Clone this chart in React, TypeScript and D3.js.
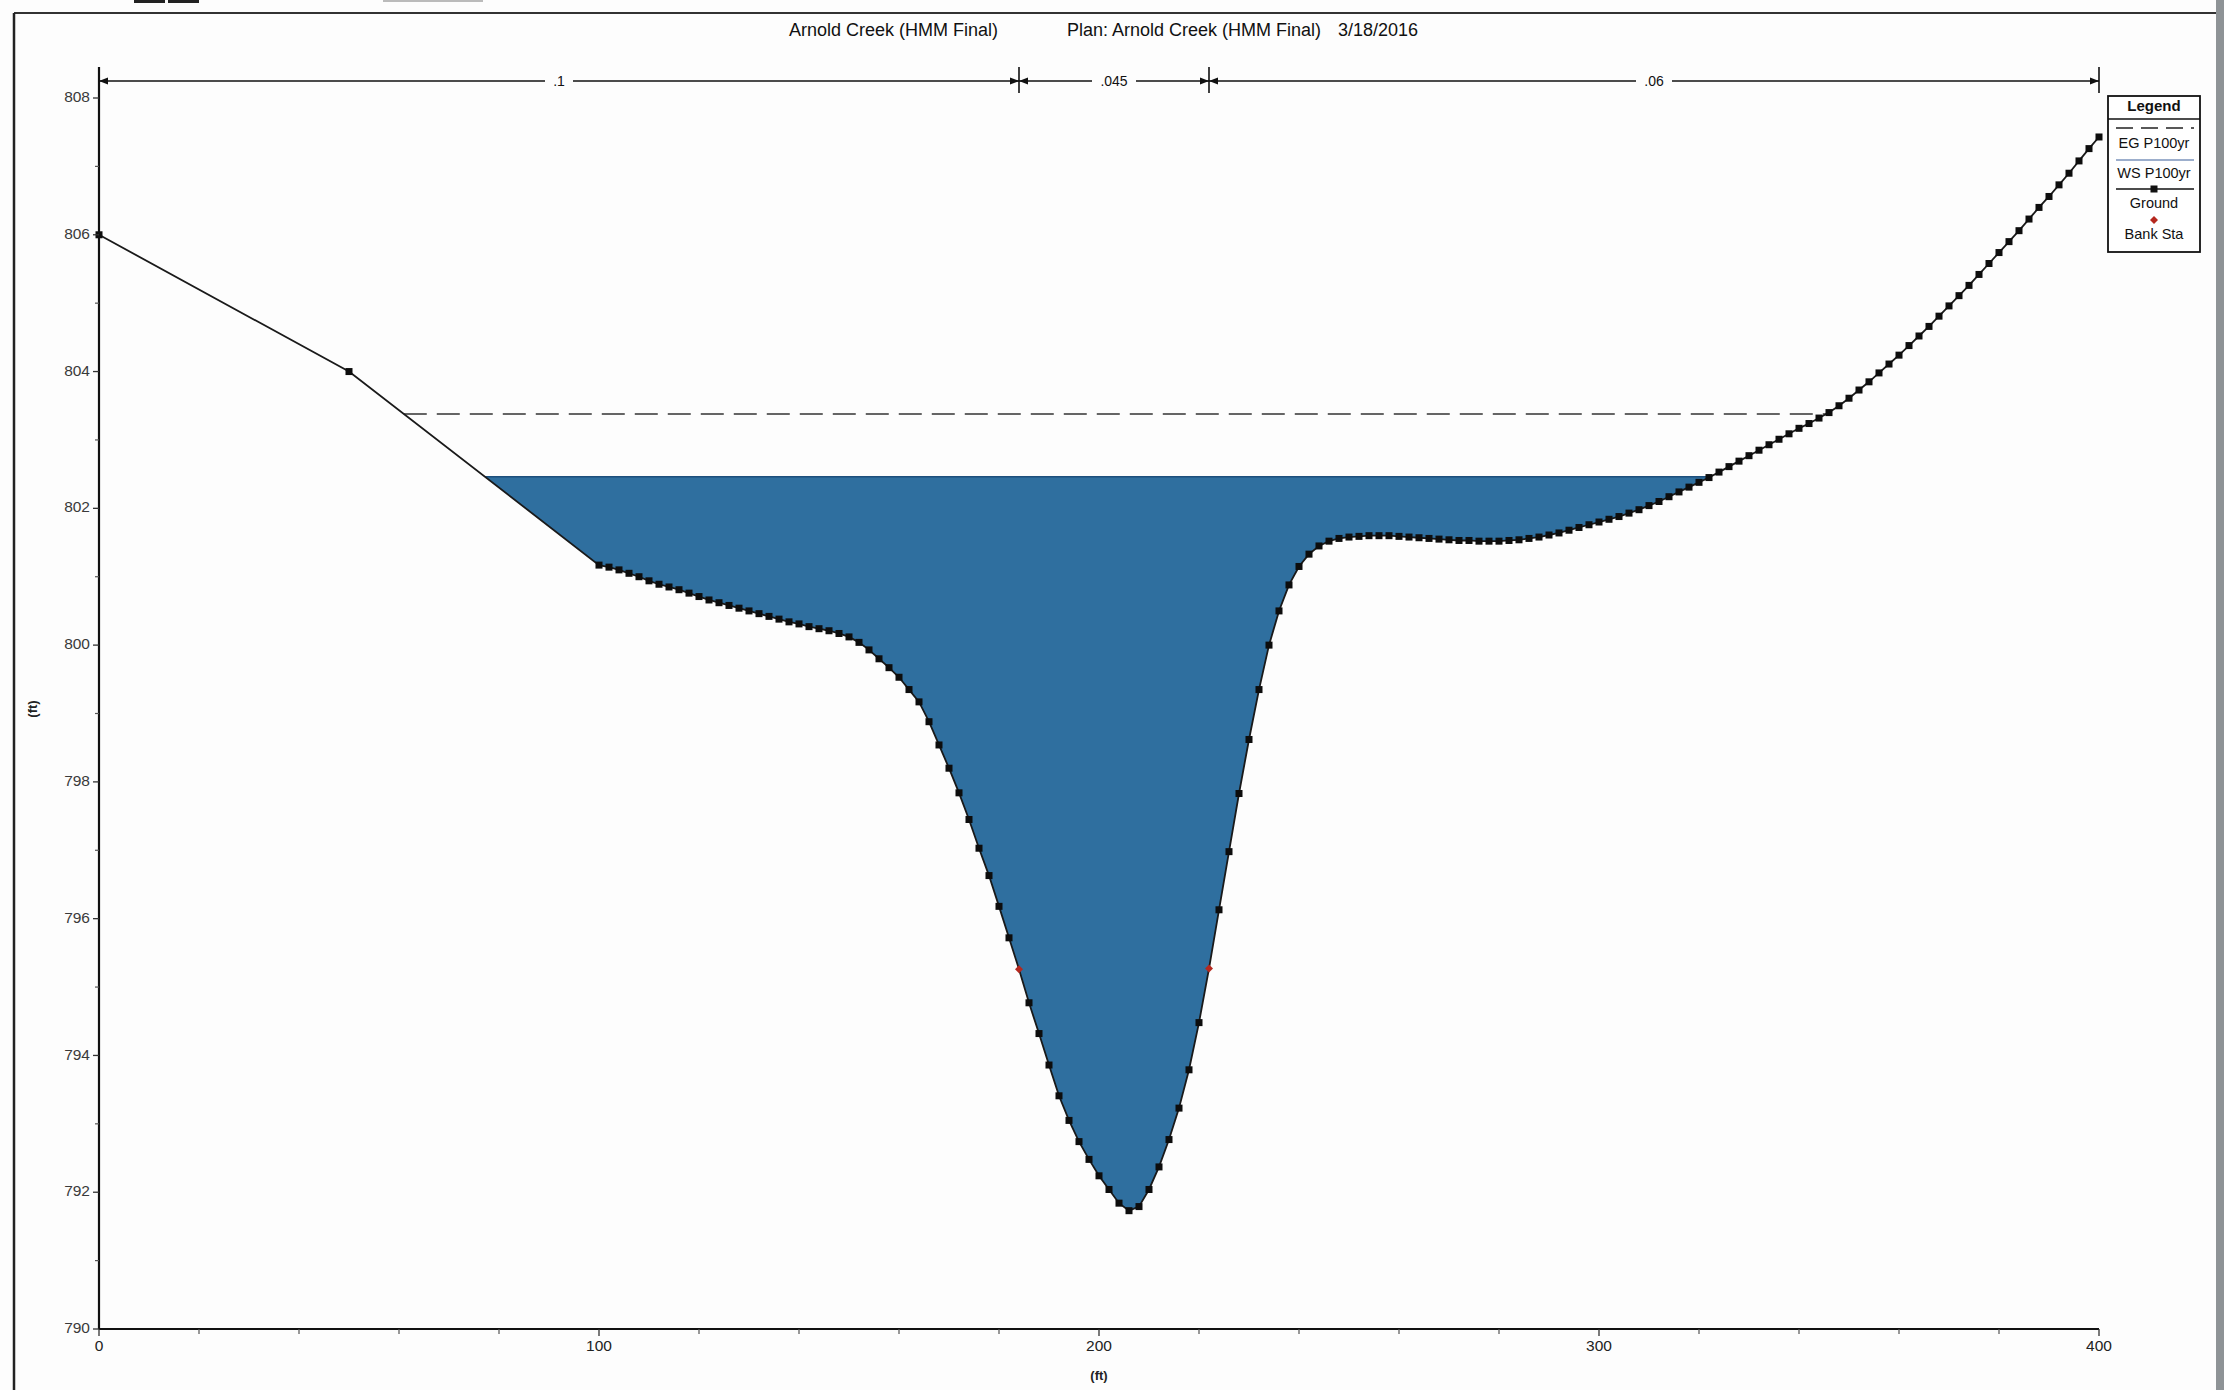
import React from 'react';
import * as d3 from 'd3';

const TITLE_PARTS = ['Arnold Creek (HMM Final)', 'Plan: Arnold Creek (HMM Final)', '3/18/2016'];

const GROUND_STATIONS = [
  0, 50,
  100, 102, 104, 106, 108, 110, 112, 114, 116, 118, 120, 122, 124, 126, 128, 130, 132, 134, 136, 138,
  140, 142, 144, 146, 148, 150, 152, 154, 156, 158, 160, 162, 164, 166, 168, 170, 172, 174, 176, 178,
  180, 182, 184, 186, 188, 190, 192, 194, 196, 198, 200, 202, 204, 206, 208, 210, 212, 214, 216, 218,
  220, 222, 224, 226, 228, 230, 232, 234, 236, 238, 240, 242, 244, 246, 248, 250, 252, 254, 256, 258,
  260, 262, 264, 266, 268, 270, 272, 274, 276, 278, 280, 282, 284, 286, 288, 290, 292, 294, 296, 298,
  300, 302, 304, 306, 308, 310, 312, 314, 316, 318, 320, 322, 324, 326, 328, 330, 332, 334, 336, 338,
  340, 342, 344, 346, 348, 350, 352, 354, 356, 358, 360, 362, 364, 366, 368, 370, 372, 374, 376, 378,
  380, 382, 384, 386, 388, 390, 392, 394, 396, 398, 400,
];

const GROUND_ELEVATIONS = [
  806.0, 804.0,
  801.17, 801.14, 801.10, 801.05, 801.00, 800.94, 800.89, 800.85, 800.81, 800.76, 800.71, 800.66, 800.62, 800.58, 800.54, 800.50, 800.46, 800.42, 800.38, 800.34,
  800.31, 800.27, 800.24, 800.21, 800.17, 800.12, 800.04, 799.93, 799.80, 799.67, 799.53, 799.35, 799.17, 798.88, 798.54, 798.20, 797.84, 797.45, 797.03, 796.63,
  796.18, 795.72, 795.26, 794.77, 794.32, 793.86, 793.41, 793.05, 792.74, 792.48, 792.24, 792.04, 791.84, 791.73, 791.79, 792.04, 792.37, 792.77, 793.23, 793.79,
  794.48, 795.27, 796.13, 796.98, 797.83, 798.62, 799.35, 800.00, 800.50, 800.88, 801.15, 801.33, 801.45, 801.52, 801.56, 801.58, 801.59, 801.60, 801.60, 801.60,
  801.59, 801.58, 801.57, 801.56, 801.55, 801.54, 801.53, 801.53, 801.52, 801.52, 801.52, 801.53, 801.54, 801.56, 801.58, 801.61, 801.64, 801.68, 801.72, 801.76,
  801.80, 801.84, 801.88, 801.93, 801.98, 802.04, 802.10, 802.17, 802.24, 802.31, 802.38, 802.45, 802.53, 802.61, 802.69, 802.77, 802.85, 802.93, 803.01, 803.09,
  803.17, 803.24, 803.32, 803.40, 803.50, 803.61, 803.73, 803.85, 803.98, 804.11, 804.24, 804.38, 804.52, 804.66, 804.81, 804.96, 805.11, 805.26, 805.42, 805.58,
  805.74, 805.90, 806.06, 806.23, 806.40, 806.56, 806.73, 806.90, 807.08, 807.26, 807.43,
];

const BANK_STATIONS = [184, 222];
const WS_ELEV = 802.46;
const EG_ELEV = 803.38;
const MANNING_BREAKS = [0, 184, 222, 400];
const MANNING_N = ['.1', '.045', '.06'];
const Y_MAJOR_TICKS = [790, 792, 794, 796, 798, 800, 802, 804, 806, 808];
const Y_MINOR_TICKS = [791, 793, 795, 797, 799, 801, 803, 805, 807];
const X_MAJOR_TICKS = [0, 100, 200, 300, 400];
const X_MINOR_TICKS = [20, 40, 60, 80, 120, 140, 160, 180, 220, 240, 260, 280, 320, 340, 360, 380];
const LEGEND_ITEMS = ['EG P100yr', 'WS P100yr', 'Ground', 'Bank Sta'];
const X_AXIS_TITLE = '(ft)';
const Y_AXIS_TITLE = '(ft)';

const W = 2224;
const H = 1390;
const FONT = 'Liberation Sans, Arial, sans-serif';
const WATER = '#2f6f9f';

type P = { s: number; e: number };

function crossing(pts: P[], level: number, fromLeft: boolean): number {
  if (fromLeft) {
    for (let i = 0; i < pts.length - 1; i++) {
      const a = pts[i], b = pts[i + 1];
      if (a.e >= level && b.e < level) return a.s + ((a.e - level) / (a.e - b.e)) * (b.s - a.s);
    }
  } else {
    for (let i = pts.length - 1; i > 0; i--) {
      const a = pts[i - 1], b = pts[i];
      if (b.e >= level && a.e < level) return a.s + ((level - a.e) / (b.e - a.e)) * (b.s - a.s);
    }
  }
  return 0;
}

export default function App() {
  const x = d3.scaleLinear().domain([0, 400]).range([99, 2099]);
  const y = d3.scaleLinear().domain([790, 808]).range([1329, 98]);

  const ground: P[] = GROUND_STATIONS.map((s, i) => ({ s, e: GROUND_ELEVATIONS[i] }));
  const line = d3.line<P>().x((d) => x(d.s)).y((d) => y(d.e));

  const wsL = crossing(ground, WS_ELEV, true);
  const wsR = crossing(ground, WS_ELEV, false);
  const egL = crossing(ground, EG_ELEV, true);
  const egR = crossing(ground, EG_ELEV, false);

  const waterPts: P[] = [
    { s: wsL, e: WS_ELEV },
    ...ground.filter((p) => p.s > wsL && p.s < wsR),
    { s: wsR, e: WS_ELEV },
  ];
  const waterPath = line(waterPts) + 'Z';

  const axisTop = 67;
  const manY = 81;

  const arrow = (tipX: number, dir: number) => {
    const len = 9, half = 3.5;
    return `M${tipX},${manY}L${tipX - dir * len},${manY - half}L${tipX - dir * len},${manY + half}Z`;
  };

  const lgX0 = 2108, lgX1 = 2200, lgCx = (lgX0 + lgX1) / 2;
  const lgRows = [144, 174, 204, 235];
  const ms = 7;

  return (
    <svg
      width={W}
      height={H}
      style={{ position: 'absolute', left: 0, top: 0, background: '#fff' }}
      fontFamily={FONT}
    >
      <rect x={0} y={0} width={W} height={H} fill="#fdfdfd" />
      {/* frame */}
      <rect x={134} y={0} width={31} height={3} fill="#222" />
      <rect x={168} y={0} width={31} height={3} fill="#222" />
      <rect x={383} y={0} width={100} height={2} fill="#bbb" />
      <line x1={14} y1={13} x2={2216} y2={13} stroke="#333" strokeWidth={2} />
      <line x1={14} y1={13} x2={14} y2={H} stroke="#222" strokeWidth={2.5} />
      <rect x={2216} y={0} width={8} height={H} fill="#8e9396" />

      {/* title */}
      <g fontSize={18} fill="#111" dominantBaseline="middle">
        <text x={789} y={31}>{TITLE_PARTS[0]}</text>
        <text x={1067} y={31}>{TITLE_PARTS[1]}</text>
        <text x={1338} y={31}>{TITLE_PARTS[2]}</text>
      </g>

      {/* water fill */}
      <path d={waterPath} fill={WATER} stroke="none" />
      <line x1={x(wsL)} y1={y(WS_ELEV)} x2={x(wsR)} y2={y(WS_ELEV)} stroke="#1d4f7c" strokeWidth={1.5} />

      {/* EG line */}
      <line
        x1={x(egL)}
        y1={y(EG_ELEV)}
        x2={x(egR)}
        y2={y(EG_ELEV)}
        stroke="#333"
        strokeWidth={1.6}
        strokeDasharray="23 10"
      />

      {/* ground */}
      <path d={line(ground) || ''} fill="none" stroke="#1a1a1a" strokeWidth={1.8} />
      {ground.map((p, i) =>
        BANK_STATIONS.includes(p.s) ? null : (
          <rect key={i} x={x(p.s) - ms / 2} y={y(p.e) - ms / 2} width={ms} height={ms} fill="#0d0d0d" />
        )
      )}
      {ground
        .filter((p) => BANK_STATIONS.includes(p.s))
        .map((p, i) => (
          <path
            key={'b' + i}
            d={`M${x(p.s)},${y(p.e) - 4}L${x(p.s) + 4},${y(p.e)}L${x(p.s)},${y(p.e) + 4}L${x(p.s) - 4},${y(p.e)}Z`}
            fill="#b5281f"
          />
        ))}

      {/* axes */}
      <line x1={99} y1={axisTop} x2={99} y2={1329} stroke="#111" strokeWidth={2.2} />
      <line x1={99} y1={1329} x2={2099} y2={1329} stroke="#111" strokeWidth={2.2} />
      {Y_MAJOR_TICKS.map((t) => (
        <g key={'ym' + t}>
          <line x1={93} y1={y(t)} x2={99} y2={y(t)} stroke="#333" strokeWidth={1.3} />
          <text x={90} y={y(t)} textAnchor="end" dominantBaseline="middle" fontSize={15.5} fill="#3a3a3a">
            {t}
          </text>
        </g>
      ))}
      {Y_MINOR_TICKS.map((t) => (
        <line key={'yn' + t} x1={95} y1={y(t)} x2={99} y2={y(t)} stroke="#555" strokeWidth={1.2} />
      ))}
      {X_MAJOR_TICKS.map((t) => (
        <g key={'xm' + t}>
          <line x1={x(t)} y1={1329} x2={x(t)} y2={1336} stroke="#333" strokeWidth={1.3} />
          <text x={x(t)} y={1347} textAnchor="middle" dominantBaseline="middle" fontSize={15.5} fill="#222">
            {t}
          </text>
        </g>
      ))}
      {X_MINOR_TICKS.map((t) => (
        <line key={'xn' + t} x1={x(t)} y1={1329} x2={x(t)} y2={1334} stroke="#555" strokeWidth={1.2} />
      ))}
      <text x={1099} y={1377} textAnchor="middle" dominantBaseline="middle" fontSize={13} fontWeight="bold" fill="#222">
        {X_AXIS_TITLE}
      </text>
      <text
        x={34}
        y={709}
        textAnchor="middle"
        dominantBaseline="middle"
        fontSize={13}
        fontWeight="bold"
        fill="#222"
        transform="rotate(-90 34 709)"
      >
        {Y_AXIS_TITLE}
      </text>

      {/* Manning's n bar */}
      {MANNING_N.map((n, i) => {
        const x1 = x(MANNING_BREAKS[i]);
        const x2 = x(MANNING_BREAKS[i + 1]);
        const mid = (x1 + x2) / 2;
        const lw = n.length * 8 + 12;
        return (
          <g key={'mn' + i}>
            <line x1={x1} y1={manY} x2={x2} y2={manY} stroke="#111" strokeWidth={1.6} />
            <path d={arrow(x1, -1)} fill="#111" />
            <path d={arrow(x2, 1)} fill="#111" />
            <rect x={mid - lw / 2} y={manY - 9} width={lw} height={18} fill="#fdfdfd" />
            <text x={mid} y={manY + 1} textAnchor="middle" dominantBaseline="middle" fontSize={14} fill="#111">
              {n}
            </text>
          </g>
        );
      })}
      {MANNING_BREAKS.slice(1).map((b) => (
        <line key={'mb' + b} x1={x(b)} y1={manY - 14} x2={x(b)} y2={manY + 12} stroke="#111" strokeWidth={1.6} />
      ))}

      {/* legend */}
      <rect x={lgX0} y={96} width={lgX1 - lgX0} height={156} fill="#fff" stroke="#111" strokeWidth={1.8} />
      <text x={lgCx} y={107} textAnchor="middle" dominantBaseline="middle" fontSize={15} fontWeight="bold" fill="#111">
        Legend
      </text>
      <line x1={lgX0} y1={119} x2={lgX1} y2={119} stroke="#111" strokeWidth={1.4} />
      <line x1={2116} y1={128} x2={2194} y2={128} stroke="#222" strokeWidth={1.3} strokeDasharray="17 8" />
      <line x1={2116} y1={160} x2={2194} y2={160} stroke="#3a5f9a" strokeWidth={1.2} />
      <line x1={2116} y1={189} x2={2194} y2={189} stroke="#111" strokeWidth={1.5} />
      <rect x={lgCx - 3.5} y={185.5} width={7} height={7} fill="#111" />
      <path d={`M${lgCx},${216}L${lgCx + 4},${220}L${lgCx},${224}L${lgCx - 4},${220}Z`} fill="#b5281f" />
      {LEGEND_ITEMS.map((t, i) => (
        <text key={t} x={lgCx} y={lgRows[i]} textAnchor="middle" dominantBaseline="middle" fontSize={14.5} fill="#111">
          {t}
        </text>
      ))}
    </svg>
  );
}
